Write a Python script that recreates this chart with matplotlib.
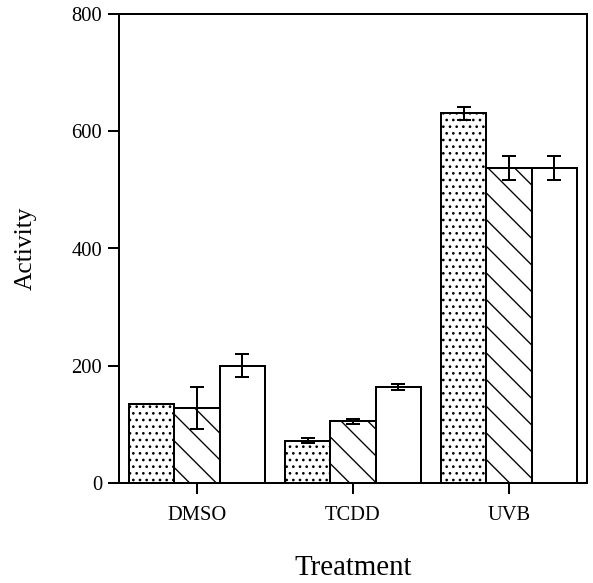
import numpy as np
import matplotlib
matplotlib.use('Agg')
import matplotlib.pyplot as plt

plt.rcParams['font.family'] = ['Liberation Serif', 'DejaVu Serif']
plt.rcParams['hatch.linewidth'] = 1.2

treatments = ['DMSO', 'TCDD', 'UVB']
dotted_vals = [135, 72, 631]
dotted_err = [0, 4, 11]
hatched_vals = [128, 105, 537]
hatched_err = [36, 5, 20]
open_vals = [200, 164, 537]
open_err = [20, 5.5, 20]
yticks = [0, 200, 400, 600, 800]

fig = plt.figure(figsize=(593 / 80, 583 / 80), dpi=80)
ax = fig.add_axes([119 / 593, 100 / 583, 468 / 593, 469 / 583])

x = np.arange(len(treatments))
w = 0.29
lw = 1.8
series = [(dotted_vals, dotted_err, '..'),
          (hatched_vals, hatched_err, '\\'),
          (open_vals, open_err, '')]
for i, (vals, errs, hatch) in enumerate(series):
    pos = x + (i - 1) * w
    ax.bar(pos, vals, width=w, color='white', edgecolor='black',
           hatch=hatch, linewidth=lw, zorder=2)
    ax.errorbar(pos, vals, yerr=errs, fmt='none', ecolor='black',
                elinewidth=lw, capsize=6, capthick=lw, zorder=3)

ax.set_xlim(-0.5, 2.5)
ax.set_ylim(0, 800)
ax.set_xticks(x)
ax.set_xticklabels(treatments)
ax.set_yticks(yticks)
ax.tick_params(axis='both', labelsize=18.5, width=lw, length=9.5, color='black')
ax.tick_params(axis='x', pad=11)
ax.tick_params(axis='y', pad=5.5)
for s in ax.spines.values():
    s.set_linewidth(lw)

ax.set_xlabel('Treatment', fontsize=26, va='center')
ax.xaxis.set_label_coords(0.5, -0.182)
ax.set_ylabel('Activity', fontsize=23, va='center')
ax.yaxis.set_label_coords(-0.2, 0.5)

fig.savefig('out.png', dpi=80)
